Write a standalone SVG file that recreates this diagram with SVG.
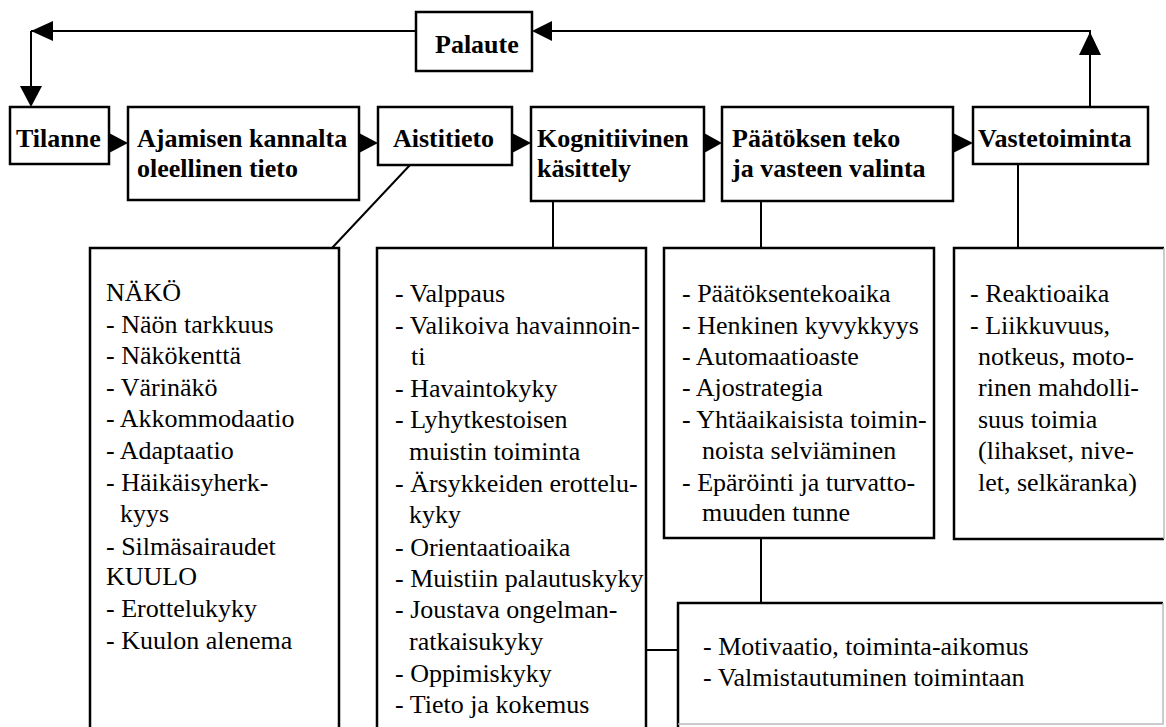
<svg xmlns="http://www.w3.org/2000/svg" width="1166" height="727" viewBox="0 0 1166 727">
<style>
.box{fill:#fff;stroke:#000;stroke-width:2.5}
.ln{fill:none;stroke:#000;stroke-width:2}
.faint{fill:none;stroke:#bbb;stroke-width:1.5}
text{font-family:'Liberation Serif','Times New Roman',serif;font-size:26px;fill:#000}
.hd{font-weight:bold}
.ah{fill:#000}
</style>
<rect width="1166" height="727" fill="#fff"/>
<g id="connectors">
<path class="ln" d="M31,31 H416 M552,31 H1090 V54 M31,31 V88 M1090,107 V52"/>
<polygon class="ah" points="31,31 53,21 53,41"/>
<polygon class="ah" points="532,31 552,21 552,41"/>
<polygon class="ah" points="31,107 20,86 42,86"/>
<polygon class="ah" points="1090,32 1079,55 1101,55"/>
<polygon class="ah" points="128,143 109,133 109,153"/>
<polygon class="ah" points="378,143 359,133 359,153"/>
<polygon class="ah" points="531,143 512,133 512,153"/>
<polygon class="ah" points="722,143 704,133 704,153"/>
<polygon class="ah" points="973,143 953,133 953,153"/>
<path class="ln" d="M410,165 L332,248 M553,201 V248 M761,201 V248 M1018,164 V248 M761,538 V603 M646,650 H678"/>
</g>
<g id="palaute"><rect class="box" x="416" y="12" width="116" height="59"/><text class="hd" x="435" y="53">Palaute</text></g>
<g id="tilanne"><rect class="box" x="10" y="107" width="99" height="57"/><text class="hd" x="16" y="147">Tilanne</text></g>
<g id="ajamisen"><rect class="box" x="128" y="107" width="231" height="93"/><text class="hd" x="137" y="147">Ajamisen kannalta</text><text class="hd" x="137" y="177">oleellinen tieto</text></g>
<g id="aistitieto"><rect class="box" x="378" y="107" width="134" height="58"/><text class="hd" x="393" y="147">Aistitieto</text></g>
<g id="kognitiivinen"><rect class="box" x="531" y="107" width="173" height="94"/><text class="hd" x="537" y="147">Kognitiivinen</text><text class="hd" x="537" y="177">käsittely</text></g>
<g id="paatoksen"><rect class="box" x="722" y="107" width="231" height="94"/><text class="hd" x="732" y="147">Päätöksen teko</text><text class="hd" x="732" y="177">ja vasteen valinta</text></g>
<g id="vastetoiminta"><rect class="box" x="973" y="107" width="175" height="57"/><text class="hd" x="978" y="147">Vastetoiminta</text></g>
<g id="aisti-lista"><path class="box" d="M90,740 V248 H339 V740"/>
<text x="106" y="301">NÄKÖ</text>
<text x="106" y="333">- Näön tarkkuus</text>
<text x="106" y="364">- Näkökenttä</text>
<text x="106" y="396">- Värinäkö</text>
<text x="106" y="427">- Akkommodaatio</text>
<text x="106" y="459">- Adaptaatio</text>
<text x="106" y="491">- Häikäisyherk-</text>
<text x="120" y="522">kyys</text>
<text x="106" y="555">- Silmäsairaudet</text>
<text x="106" y="585">KUULO</text>
<text x="106" y="617">- Erottelukyky</text>
<text x="106" y="649">- Kuulon alenema</text>
</g>
<g id="kognitio-lista"><path class="box" d="M377,740 V248 H646 V740"/>
<text x="395" y="302">- Valppaus</text>
<text x="395" y="334">- Valikoiva havainnoin-</text>
<text x="411" y="365">ti</text>
<text x="395" y="397">- Havaintokyky</text>
<text x="395" y="428">- Lyhytkestoisen</text>
<text x="409" y="460">muistin toiminta</text>
<text x="395" y="492">- Ärsykkeiden erottelu-</text>
<text x="409" y="523">kyky</text>
<text x="395" y="556">- Orientaatioaika</text>
<text x="395" y="587">- Muistiin palautuskyky</text>
<text x="395" y="618">- Joustava ongelman-</text>
<text x="409" y="650">ratkaisukyky</text>
<text x="395" y="682">- Oppimiskyky</text>
<text x="395" y="713">- Tieto ja kokemus</text>
</g>
<g id="paatos-lista"><rect class="box" x="664" y="248" width="270" height="290"/>
<text x="682" y="302">- Päätöksentekoaika</text>
<text x="682" y="334">- Henkinen kyvykkyys</text>
<text x="682" y="365">- Automaatioaste</text>
<text x="682" y="396">- Ajostrategia</text>
<text x="682" y="428">- Yhtäaikaisista toimin-</text>
<text x="702" y="459">noista selviäminen</text>
<text x="682" y="491">- Epäröinti ja turvatto-</text>
<text x="702" y="521">muuden tunne</text>
</g>
<g id="vaste-lista"><path class="box" d="M1164,539 H954 V248 H1164"/><path class="faint" d="M1164,248 V539"/>
<text x="970" y="302">- Reaktioaika</text>
<text x="970" y="334">- Liikkuvuus,</text>
<text x="978" y="365">notkeus, moto-</text>
<text x="978" y="396">rinen mahdolli-</text>
<text x="978" y="428">suus toimia</text>
<text x="978" y="459">(lihakset, nive-</text>
<text x="978" y="491">let, selkäranka)</text>
</g>
<g id="motivaatio"><path class="box" d="M678,740 V603 H1163"/><path class="faint" d="M1163,603 V724 H678"/>
<text x="703" y="655">- Motivaatio, toiminta-aikomus</text>
<text x="703" y="686">- Valmistautuminen toimintaan</text>
</g>
</svg>
